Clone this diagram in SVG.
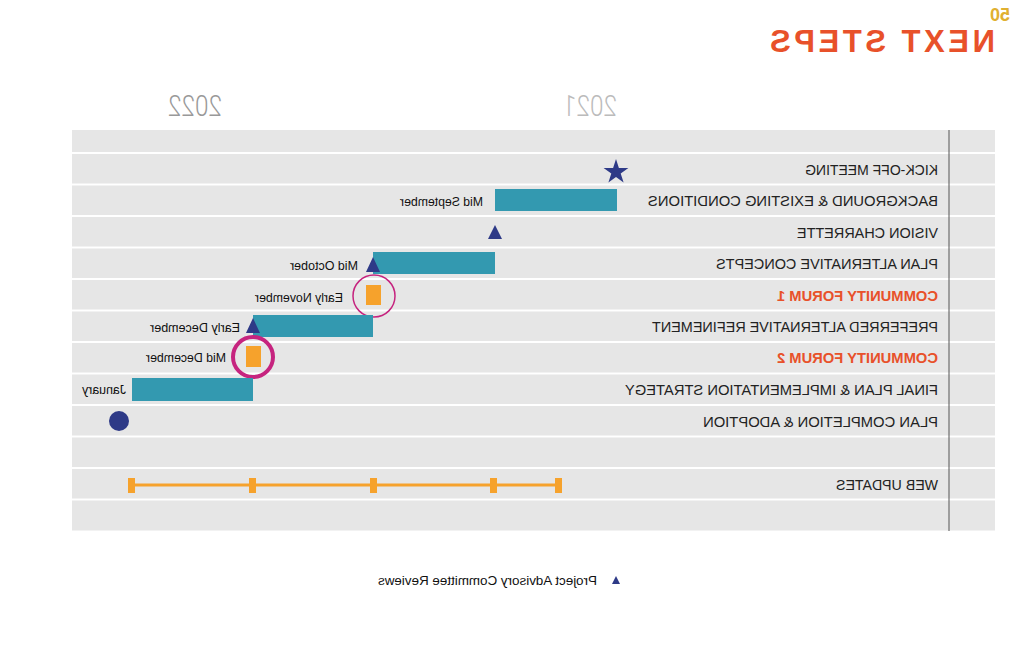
<svg xmlns="http://www.w3.org/2000/svg" width="1024" height="662" viewBox="0 0 1024 662">
<style>
.band{fill:#e6e6e6}
.lbl{font-family:"Liberation Sans",Arial,sans-serif;font-size:15px;fill:#222}
.lblo{font-family:"Liberation Sans",Arial,sans-serif;font-size:15px;fill:#e8512a;font-weight:bold}
.sm{font-family:"Liberation Sans",Arial,sans-serif;font-size:13px;fill:#111}
.bar{fill:#3399b0}
.navy{fill:#2e3a87}
.org{fill:#f6a22c}
.yr{font-family:"Roboto","Liberation Sans",sans-serif;font-weight:300;font-size:30px}
</style>
<rect width="1024" height="662" fill="#ffffff"/>
<g transform="translate(1024,0) scale(-1,1)">
<g id="title">
<text x="14" y="21" font-family="'Liberation Sans',Arial,sans-serif" font-weight="bold" font-size="18" fill="#e0b030">50</text>
<text x="29" y="52" font-family="'Liberation Sans',Arial,sans-serif" font-weight="bold" font-size="31" fill="#e8512a" textLength="225" lengthAdjust="spacing">NEXT STEPS</text>
</g>
<g id="years">
<text class="yr" x="407" y="116" fill="#bbbbbb" textLength="54" lengthAdjust="spacingAndGlyphs">2021</text>
<text class="yr" x="802" y="116" fill="#999999" textLength="54" lengthAdjust="spacingAndGlyphs">2022</text>
</g>
<g id="grid">
<rect class="band" x="29" y="130" width="923" height="22"/>
<rect class="band" x="29" y="154" width="923" height="29.5"/>
<rect class="band" x="29" y="185.5" width="923" height="29.5"/>
<rect class="band" x="29" y="217" width="923" height="29.5"/>
<rect class="band" x="29" y="248.5" width="923" height="29.5"/>
<rect class="band" x="29" y="280" width="923" height="29.5"/>
<rect class="band" x="29" y="311.5" width="923" height="29.5"/>
<rect class="band" x="29" y="343" width="923" height="29.5"/>
<rect class="band" x="29" y="374.5" width="923" height="29.5"/>
<rect class="band" x="29" y="406" width="923" height="29.5"/>
<rect class="band" x="29" y="437.5" width="923" height="29.5"/>
<rect class="band" x="29" y="469" width="923" height="29.5"/>
<rect class="band" x="29" y="500.5" width="923" height="30"/>
<line x1="75" y1="130" x2="75" y2="531" stroke="#555" stroke-width="1"/>
</g>
<g id="kickoff">
<text class="lbl" x="86" y="175" textLength="133" lengthAdjust="spacingAndGlyphs">KICK-OFF MEETING</text>
<polygon class="navy" points="408,159 410.9,167.9 420.4,167.9 412.7,173.5 415.6,182.5 408,176.9 400.4,182.5 403.3,173.5 395.6,167.9 405.1,167.9"/>
</g>
<g id="background">
<text class="lbl" x="86" y="206" textLength="290" lengthAdjust="spacingAndGlyphs">BACKGROUND &amp; EXISTING CONDITIONS</text>
<rect class="bar" x="407" y="189" width="122" height="22"/>
<text class="sm" x="541" y="206" textLength="83" lengthAdjust="spacingAndGlyphs">Mid September</text>
</g>
<g id="vision">
<text class="lbl" x="86" y="238" textLength="141" lengthAdjust="spacingAndGlyphs">VISION CHARRETTE</text>
<polygon class="navy" points="522,239 536,239 529,225"/>
</g>
<g id="planalt">
<text class="lbl" x="86" y="269" textLength="222" lengthAdjust="spacingAndGlyphs">PLAN ALTERNATIVE CONCEPTS</text>
<rect class="bar" x="529" y="252" width="122" height="22"/>
<polygon class="navy" points="644,272 658,272 651,257"/>
<text class="sm" x="666" y="270" textLength="68" lengthAdjust="spacingAndGlyphs">Mid October</text>
</g>
<g id="forum1">
<text class="lblo" x="86" y="301" textLength="161" lengthAdjust="spacingAndGlyphs">COMMUNITY FORUM 1</text>
<rect class="org" x="643" y="285" width="15" height="20"/>
<circle cx="650" cy="296" r="21" fill="none" stroke="#c6247f" stroke-width="1.5"/>
<text class="sm" x="681" y="302" textLength="88" lengthAdjust="spacingAndGlyphs">Early November</text>
</g>
<g id="preferred">
<text class="lbl" x="86" y="332" textLength="286" lengthAdjust="spacingAndGlyphs">PREFERRED ALTERNATIVE REFINEMENT</text>
<rect class="bar" x="651" y="315" width="120" height="22"/>
<polygon class="navy" points="764,333 778,333 771,318"/>
<text class="sm" x="784" y="332" textLength="90" lengthAdjust="spacingAndGlyphs">Early December</text>
</g>
<g id="forum2">
<text class="lblo" x="86" y="363" textLength="161" lengthAdjust="spacingAndGlyphs">COMMUNITY FORUM 2</text>
<rect class="org" x="763" y="346" width="15" height="21"/>
<circle cx="771" cy="357" r="20" fill="none" stroke="#c6247f" stroke-width="4"/>
<text class="sm" x="798" y="362" textLength="80" lengthAdjust="spacingAndGlyphs">Mid December</text>
</g>
<g id="final">
<text class="lbl" x="86" y="395" textLength="313" lengthAdjust="spacingAndGlyphs">FINAL PLAN &amp; IMPLEMENTATION STRATEGY</text>
<rect class="bar" x="771" y="378" width="121" height="23"/>
<text class="sm" x="898" y="394" textLength="44" lengthAdjust="spacingAndGlyphs">January</text>
</g>
<g id="completion">
<text class="lbl" x="86" y="427" textLength="235" lengthAdjust="spacingAndGlyphs">PLAN COMPLETION &amp; ADOPTION</text>
<circle class="navy" cx="905" cy="421" r="10"/>
</g>
<g id="web">
<text class="lbl" x="86" y="490" textLength="102" lengthAdjust="spacingAndGlyphs">WEB UPDATES</text>
</g>
<g id="connectors">
<line x1="465" y1="485" x2="892" y2="485" stroke="#f6a22c" stroke-width="3"/>
<rect class="org" x="462" y="478" width="7" height="15"/>
<rect class="org" x="527" y="478" width="7" height="15"/>
<rect class="org" x="647" y="478" width="7" height="15"/>
<rect class="org" x="768" y="478" width="7" height="15"/>
<rect class="org" x="889" y="478" width="7" height="15"/>
</g>
<g id="legend">
<polygon class="navy" points="404,584 412,584 408,576"/>
<text class="sm" x="427" y="585" textLength="219" lengthAdjust="spacingAndGlyphs">Project Advisory Committee Reviews</text>
</g>
</g>
</svg>
